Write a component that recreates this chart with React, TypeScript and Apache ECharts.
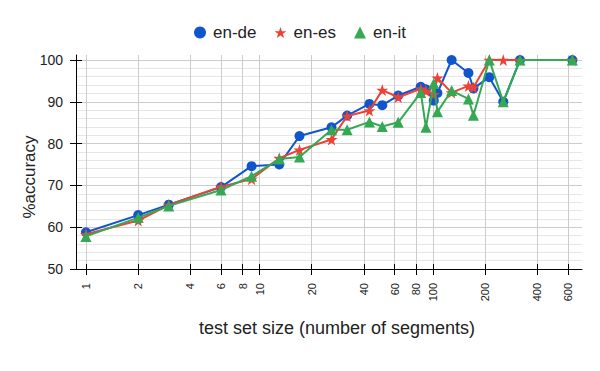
import React, { useEffect, useRef } from 'react';
import * as echarts from 'echarts';

// Test set sizes (number of segments)
const sizes = [1, 2, 3, 6, 9, 13, 17, 26, 32, 43, 51, 63, 85, 91, 101, 106, 128, 160, 171, 211, 254, 317, 635];
const enDe = [58.8, 62.9, 65.4, 69.6, 74.6, 75.0, 81.8, 83.9, 86.7, 89.5, 89.2, 91.5, 93.6, 93.0, 90.3, 92.1, 100, 96.9, 93.2, 95.9, 90.0, 100, 100];
const enEs = [58.3, 61.6, 65.3, 69.7, 71.5, 76.5, 78.5, 81.0, 86.6, 87.9, 92.8, 91.1, 93.1, 92.6, 91.8, 95.7, 92.2, 93.8, 93.4, 100, 100, 100, 100];
const enIt = [57.8, 62.3, 65.1, 68.9, 72.2, 76.3, 76.8, 83.3, 83.3, 85.2, 84.1, 85.1, 92.2, 83.9, 94.4, 87.6, 92.7, 90.7, 86.8, 100, 90.0, 100, 100];

const seriesNames = ['en-de', 'en-es', 'en-it'];
const colors = ['#1155cc', '#ea4335', '#34a853'];
const xTicks = [1, 2, 4, 6, 8, 10, 20, 40, 60, 80, 100, 200, 400, 600];
const yTicks = [50, 60, 70, 80, 90, 100];

const STAR = 'path://M50,0L61.8,35.1L98.9,35.1L69,56.7L80.2,91L50,70L19.8,91L31,56.7L1.1,35.1L38.2,35.1Z';

export default function App() {
  const ref = useRef<HTMLDivElement>(null);
  useEffect(() => {
    document.body.style.margin = '0';
    const chart = echarts.init(ref.current!, null, { renderer: 'svg' });
    const lx = (v: number) => Math.log10(v);
    const xMin = lx(0.876);
    const xMax = lx(722);
    const font = 'Arial, "Liberation Sans", sans-serif';
    const tickX = xTicks.map(lx);
    const mk = (vals: number[]) => sizes.map((s, i) => [lx(s), vals[i]]);
    const symbols = ['circle', STAR, 'triangle'];
    const symbolSizes = [10, 12, 11];
    const allVals = [enDe, enEs, enIt];

    chart.setOption({
      animation: false,
      textStyle: { fontFamily: font },
      color: colors,
      legend: {
        top: 19,
        left: 189,
        itemWidth: 12,
        itemHeight: 12,
        itemGap: 18,
        textStyle: { fontSize: 17, color: '#222', fontFamily: font, padding: [0, 0, 0, 2] },
        data: seriesNames.map((n, i) => ({ name: n, icon: symbols[i] })),
      },
      grid: { left: 76, right: 18, top: 55, bottom: 102, containLabel: false, outerBoundsMode: 'none' },
      xAxis: [
        {
          type: 'value', min: xMin, max: xMax, position: 'bottom',
          axisLine: { show: true, onZero: false, lineStyle: { color: '#000', width: 1 } },
          axisTick: { show: true, length: 6, customValues: tickX, lineStyle: { color: '#000' } },
          axisLabel: {
            customValues: tickX,
            formatter: (v: number) => String(Math.round(Math.pow(10, v))),
            rotate: 90, fontSize: 11, color: '#222', margin: 14,
          },
          splitLine: { show: true, lineStyle: { color: '#cccccc', width: 1 } },
          name: 'test set size (number of segments)',
          nameLocation: 'middle', nameGap: 50, nameMoveOverlap: false,
          nameTextStyle: { fontSize: 18, color: '#222', padding: [0, 0, 0, 16] },
        },
        {
          type: 'value', min: xMin, max: xMax, position: 'bottom',
          axisLine: { show: false, onZero: false },
          axisTick: { show: true, inside: true, length: 5, customValues: tickX, lineStyle: { color: '#000' } },
          axisLabel: { show: false },
          splitLine: { show: false },
        },
      ],
      yAxis: [
        {
          type: 'value', min: 50, max: 101.2, position: 'left',
          axisLine: { show: true, onZero: false, lineStyle: { color: '#000', width: 1 } },
          axisTick: { show: true, length: 6, customValues: yTicks, lineStyle: { color: '#000' } },
          axisLabel: { customValues: yTicks, fontSize: 14, color: '#222', margin: 13 },
          splitLine: { show: false },
          name: '%accuracy', nameLocation: 'middle', nameGap: 38, nameMoveOverlap: false,
          nameTextStyle: { fontSize: 17, color: '#222', padding: [0, 30, 0, 0] },
          z: 3,
        },
        {
          type: 'value', min: 50, max: 101.2, position: 'left',
          axisLine: { show: false, onZero: false },
          axisTick: { show: true, inside: true, length: 6, customValues: yTicks, lineStyle: { color: '#000' } },
          axisLabel: { show: false },
          splitLine: { show: false },
          z: 3,
        },
        {
          type: 'value', min: 50, max: 101.2, interval: 2, position: 'left',
          axisLine: { show: false, onZero: false },
          axisTick: { show: false },
          axisLabel: { show: false },
          splitLine: {
            show: true, showMaxLine: false,
            lineStyle: { color: ['#cccccc', '#e6e6e6', '#e6e6e6', '#e6e6e6', '#e6e6e6'], width: 1 },
          },
          z: 0,
        },
      ],
      series: seriesNames.map((n, i) => ({
        name: n,
        type: 'line',
        data: mk(allVals[i]),
        symbol: symbols[i],
        symbolSize: symbolSizes[i],
        showAllSymbol: true,
        lineStyle: { width: 2, color: colors[i] },
        itemStyle: { color: colors[i] },
        z: 5 + i,
      })),
    });
    return () => chart.dispose();
  }, []);
  return <div ref={ref} style={{ width: 600, height: 371 }} />;
}
